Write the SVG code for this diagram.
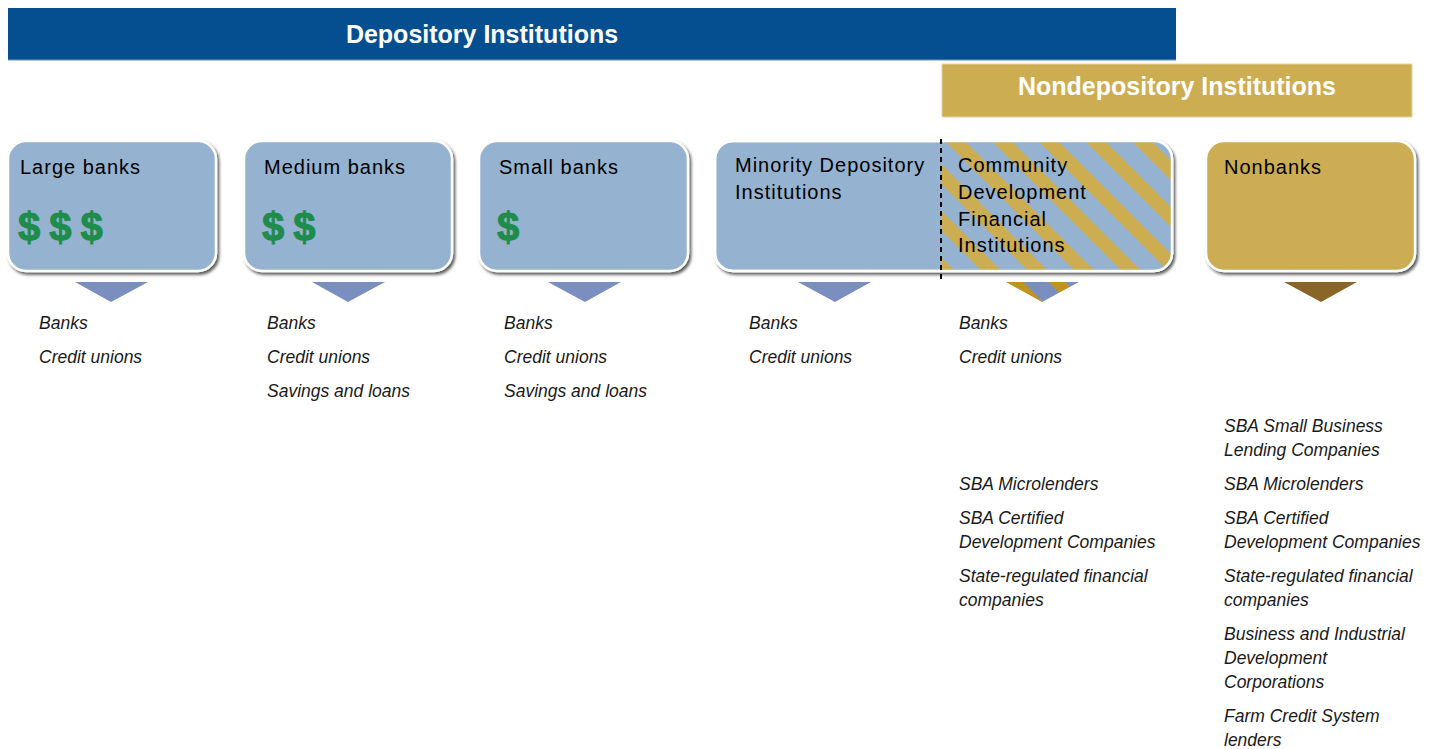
<svg xmlns="http://www.w3.org/2000/svg" width="1435" height="749" viewBox="0 0 1435 749">
  <style>
    .bar-title { font-family: "Liberation Sans", Arial, sans-serif; font-weight: bold; font-size: 25px; fill: #ffffff; text-anchor: middle; }
    .head { font-family: "Liberation Sans", Arial, sans-serif; font-size: 20px; letter-spacing: 1px; fill: #000000; }
    .money { font-family: "Liberation Sans", Arial, sans-serif; font-weight: bold; font-size: 40px; letter-spacing: 9px; fill: #1e8c4a; stroke: #1e8c4a; stroke-width: 1; }
    .item { font-family: "Liberation Sans", Arial, sans-serif; font-style: italic; font-size: 17.5px; fill: #1a1a1a; }
    .box { stroke: #ffffff; stroke-width: 2.5; }
    .blue { fill: #95b3d0; }
    .gold { fill: #ccad52; }
  </style>
  <defs>
    <filter id="shadow" x="-5%" y="-5%" width="115%" height="120%">
      <feDropShadow dx="2" dy="2.5" stdDeviation="1.5" flood-color="#000000" flood-opacity="0.65"/>
    </filter>
    <pattern id="stripes" patternUnits="userSpaceOnUse" width="33" height="33" patternTransform="translate(946 142) rotate(-45)">
      <rect width="33" height="33" fill="#95b3d0"/>
      <rect width="14" height="33" fill="#ccad52"/>
    </pattern>
    <pattern id="stripesDark" patternUnits="userSpaceOnUse" width="30" height="30" patternTransform="translate(1006 282) rotate(-45)">
      <rect width="30" height="30" fill="#7a8ebf"/>
      <rect width="12" height="30" fill="#c0921e"/>
    </pattern>
    <clipPath id="cdfiClip">
      <rect x="941" y="130" width="260" height="160"/>
    </clipPath>
  </defs>

  <!-- category bars -->
  <g id="depository-bar">
    <rect x="8" y="8" width="1168" height="52" fill="#054f90"/>
    <line x1="8" y1="60" x2="1176" y2="60" stroke="#6f93bd" stroke-width="1"/>
    <text class="bar-title" x="482" y="43">Depository Institutions</text>
  </g>
  <g id="nondepository-bar">
    <rect x="942" y="64" width="470" height="53" fill="#cdad52" stroke="#e6d49e" stroke-width="1"/>
    <text class="bar-title" x="1177" y="95">Nondepository Institutions</text>
  </g>

  <!-- institution boxes -->
  <g id="large-banks">
    <rect class="box blue" x="8" y="141" width="208" height="130" rx="18" filter="url(#shadow)"/>
    <text class="head" x="20" y="174">Large banks</text>
    <text class="money" x="18" y="241">$$$</text>
  </g>
  <g id="medium-banks">
    <rect class="box blue" x="244" y="141" width="208" height="130" rx="18" filter="url(#shadow)"/>
    <text class="head" x="264" y="174">Medium banks</text>
    <text class="money" x="262" y="241">$$</text>
  </g>
  <g id="small-banks">
    <rect class="box blue" x="479" y="141" width="209" height="130" rx="18" filter="url(#shadow)"/>
    <text class="head" x="499" y="174">Small banks</text>
    <text class="money" x="497" y="241">$</text>
  </g>
  <g id="minority-cdfi">
    <rect class="box blue" x="715" y="141" width="457" height="130" rx="18" filter="url(#shadow)"/>
    <rect x="715" y="141" width="457" height="130" rx="18" fill="url(#stripes)" clip-path="url(#cdfiClip)"/>
    <rect x="715" y="141" width="457" height="130" rx="18" fill="none" stroke="#ffffff" stroke-width="2.5"/>
    <text class="head" x="735" y="172">Minority Depository</text>
    <text class="head" x="735" y="199">Institutions</text>
    <text class="head" x="958" y="172">Community</text>
    <text class="head" x="958" y="199">Development</text>
    <text class="head" x="958" y="226">Financial</text>
    <text class="head" x="958" y="252">Institutions</text>
  </g>
  <g id="nonbanks">
    <rect class="box gold" x="1206" y="141" width="209" height="130" rx="18" filter="url(#shadow)"/>
    <text class="head" x="1224" y="174">Nonbanks</text>
  </g>

  <!-- pointers and divider -->
  <g id="connectors">
    <line x1="941" y1="139" x2="941" y2="282" stroke="#000000" stroke-width="2" stroke-dasharray="5 4"/>
    <polygon points="75,282 148,282 111,302" fill="#7a8ebf"/>
    <polygon points="312,282 385,282 348,302" fill="#7a8ebf"/>
    <polygon points="548,282 621,282 585,302" fill="#7a8ebf"/>
    <polygon points="798,282 871,282 835,302" fill="#7a8ebf"/>
    <polygon points="1006,282 1079,282 1042,302" fill="url(#stripesDark)"/>
    <polygon points="1284,282 1357,282 1321,302" fill="#8a6528"/>
  </g>

  <!-- institution types -->
  <g id="list-large">
    <text class="item" x="39" y="329">Banks</text>
    <text class="item" x="39" y="363">Credit unions</text>
  </g>
  <g id="list-medium">
    <text class="item" x="267" y="329">Banks</text>
    <text class="item" x="267" y="363">Credit unions</text>
    <text class="item" x="267" y="397">Savings and loans</text>
  </g>
  <g id="list-small">
    <text class="item" x="504" y="329">Banks</text>
    <text class="item" x="504" y="363">Credit unions</text>
    <text class="item" x="504" y="397">Savings and loans</text>
  </g>
  <g id="list-minority">
    <text class="item" x="749" y="329">Banks</text>
    <text class="item" x="749" y="363">Credit unions</text>
  </g>
  <g id="list-cdfi">
    <text class="item" x="959" y="329">Banks</text>
    <text class="item" x="959" y="363">Credit unions</text>
    <text class="item" x="959" y="490">SBA Microlenders</text>
    <text class="item" x="959" y="524">SBA Certified</text>
    <text class="item" x="959" y="548">Development Companies</text>
    <text class="item" x="959" y="582">State-regulated financial</text>
    <text class="item" x="959" y="606">companies</text>
  </g>
  <g id="list-nonbanks">
    <text class="item" x="1224" y="432">SBA Small Business</text>
    <text class="item" x="1224" y="456">Lending Companies</text>
    <text class="item" x="1224" y="490">SBA Microlenders</text>
    <text class="item" x="1224" y="524">SBA Certified</text>
    <text class="item" x="1224" y="548">Development Companies</text>
    <text class="item" x="1224" y="582">State-regulated financial</text>
    <text class="item" x="1224" y="606">companies</text>
    <text class="item" x="1224" y="640">Business and Industrial</text>
    <text class="item" x="1224" y="664">Development</text>
    <text class="item" x="1224" y="688">Corporations</text>
    <text class="item" x="1224" y="722">Farm Credit System</text>
    <text class="item" x="1224" y="746">lenders</text>
  </g>
</svg>
